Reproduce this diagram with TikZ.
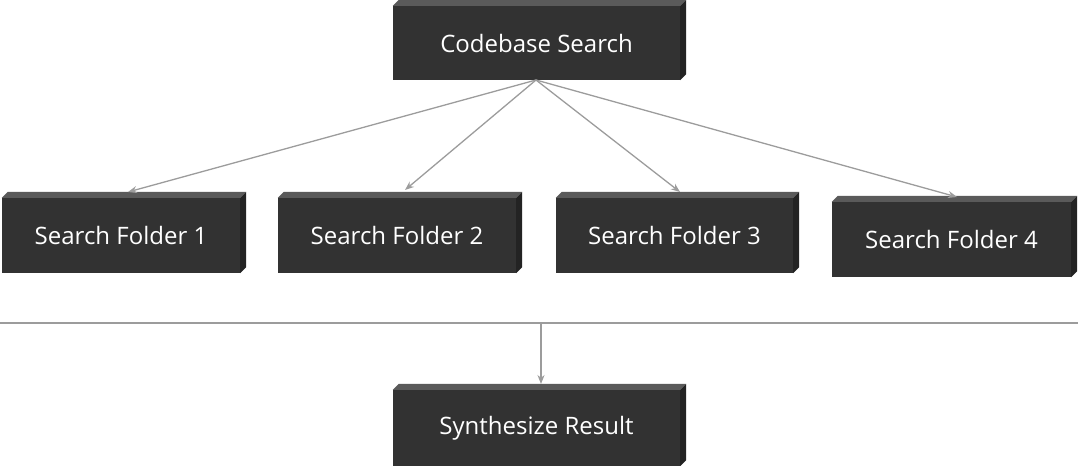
\documentclass[tikz,border=0pt]{standalone}
\usepackage{fontspec}
\setmainfont{Open Sans}
\tikzset{
  blk/.style={fill=boxfront, text=white, inner sep=0pt, font=\fontsize{24}{28}\selectfont},
  conn/.style={draw=linegray, line width=1.3pt, -{Stealth[length=9pt,width=7pt]}},
}
\usetikzlibrary{arrows.meta}
\definecolor{boxfront}{HTML}{323232}
\definecolor{boxtop}{HTML}{5A5A5A}
\definecolor{boxside}{HTML}{232323}
\definecolor{linegray}{HTML}{9C9C9C}
\newcommand{\deco}[1]{%
  \fill[boxtop] (#1.north west) -- ++(6pt,6pt) -- ([shift={(6pt,6pt)}]#1.north east) -- (#1.north east) -- cycle;
  \fill[boxside] (#1.north east) -- ++(6pt,6pt) -- ([shift={(6pt,6pt)}]#1.south east) -- (#1.south east) -- cycle;}
\begin{document}
\begin{tikzpicture}[x=1pt,y=-1pt]
\useasboundingbox (0,0) rectangle (1080,466);
\node[blk, minimum width=287pt, minimum height=74pt] (cs) at (536.5,43) {Codebase Search};
\node[blk, minimum width=238pt, minimum height=75pt] (f1) at (121,235.5) {Search Folder 1};
\node[blk, minimum width=238pt, minimum height=75pt] (f2) at (397,235.5) {Search Folder 2};
\node[blk, minimum width=237pt, minimum height=75pt] (f3) at (674.5,235.5) {Search Folder 3};
\node[blk, minimum width=239pt, minimum height=75pt] (f4) at (951.5,239.5) {Search Folder 4};
\node[blk, minimum width=287pt, minimum height=76pt] (sr) at (536.5,428) {Synthesize Result};
\foreach \n in {cs,f1,f2,f3,f4,sr}{\deco{\n}}
\coordinate (hub) at (536,80);
\draw[conn] (hub) -- (128,192);
\draw[conn] (hub) -- (405,190);
\draw[conn] (hub) -- (680,192);
\draw[conn] (hub) -- (957,197);
\coordinate (l1) at (0,323);
\coordinate (l2) at (1078,323);
\coordinate (lm) at (541,323);
\draw[draw=linegray, line width=1.3pt] (l1) -- (l2);
\draw[conn] (lm) -- (541,384);
\end{tikzpicture}
\end{document}
